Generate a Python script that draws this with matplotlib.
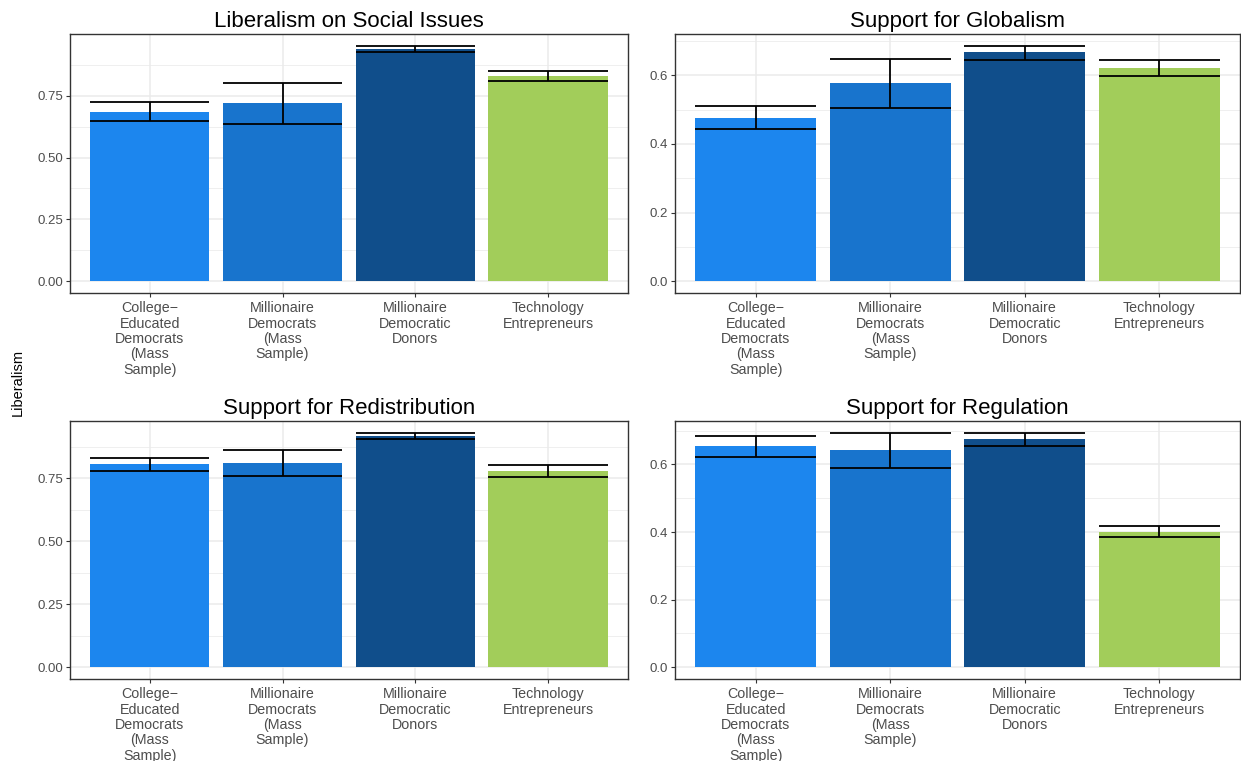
import matplotlib.pyplot as plt
from matplotlib.ticker import MultipleLocator
import numpy as np

plt.rcParams["font.family"] = ["Liberation Sans", "DejaVu Sans"]

# -----------------------
# DATA
# -----------------------

groups = [
    "College\u2212\nEducated\nDemocrats\n(Mass\nSample)",
    "Millionaire\nDemocrats\n(Mass\nSample)",
    "Millionaire\nDemocratic\nDonors",
    "Technology\nEntrepreneurs",
]
bar_colors = ["#1C86EE", "#1874CD", "#104E8B", "#A2CD5A"]

social_mean = [0.685, 0.722, 0.940, 0.831]
social_lo = [0.648, 0.637, 0.925, 0.811]
social_hi = [0.723, 0.802, 0.952, 0.852]

globalism_mean = [0.477, 0.577, 0.667, 0.620]
globalism_lo = [0.443, 0.506, 0.645, 0.597]
globalism_hi = [0.512, 0.647, 0.686, 0.644]

redistribution_mean = [0.804, 0.808, 0.918, 0.780]
redistribution_lo = [0.780, 0.757, 0.907, 0.755]
redistribution_hi = [0.828, 0.861, 0.930, 0.800]

regulation_mean = [0.654, 0.642, 0.675, 0.400]
regulation_lo = [0.623, 0.589, 0.656, 0.384]
regulation_hi = [0.683, 0.694, 0.692, 0.419]

panels = [
    ("Liberalism on Social Issues", social_mean, social_lo, social_hi, 0.25),
    ("Support for Globalism", globalism_mean, globalism_lo, globalism_hi, 0.2),
    ("Support for Redistribution", redistribution_mean, redistribution_lo, redistribution_hi, 0.25),
    ("Support for Regulation", regulation_mean, regulation_lo, regulation_hi, 0.2),
]

# axes boxes in figure fractions: left, bottom, width, height
boxes = [
    (0.0564, 0.615, 0.4496, 0.3403),
    (0.5440, 0.615, 0.4552, 0.3403),
    (0.0564, 0.1078, 0.4496, 0.3390),
    (0.5440, 0.1078, 0.4552, 0.3390),
]

XLAB_SIZE = 10.3


def draw_panel(ax, title, mean, lo, hi, step):
    x = np.arange(1, len(groups) + 1)
    ax.bar(x, mean, width=0.9, color=bar_colors, zorder=2)
    # error bars: caps as wide as the bars
    ax.vlines(x, lo, hi, color="black", lw=1.3, zorder=3)
    ax.hlines(lo, x - 0.45, x + 0.45, color="black", lw=1.3, zorder=3)
    ax.hlines(hi, x - 0.45, x + 0.45, color="black", lw=1.3, zorder=3)

    top = max(hi)
    ax.set_ylim(-0.05 * top, 1.05 * top)
    ax.set_xlim(0.4, len(groups) + 0.6)
    ax.yaxis.set_major_locator(MultipleLocator(step))
    ax.yaxis.set_minor_locator(MultipleLocator(step / 2))
    if step == 0.25:
        ax.yaxis.set_major_formatter(plt.FormatStrFormatter("%.2f"))
    else:
        ax.yaxis.set_major_formatter(plt.FormatStrFormatter("%.1f"))

    ax.grid(which="major", color="#EBEBEB", lw=1.1, zorder=0)
    ax.grid(which="minor", axis="y", color="#EBEBEB", lw=0.55, zorder=0)
    ax.set_axisbelow(True)
    ax.tick_params(which="major", length=3, color="#333333", labelsize=9.5,
                   labelcolor="#4D4D4D")
    ax.tick_params(axis="y", pad=2)
    ax.tick_params(axis="x", pad=3)
    ax.tick_params(which="minor", length=0)

    ax.set_xticks(x)
    ax.set_xticklabels(groups, fontsize=XLAB_SIZE, color="#4D4D4D", linespacing=1.12)

    for sp in ax.spines.values():
        sp.set_color("#333333")
        sp.set_linewidth(1.0)
    ax.set_title(title, fontsize=16, pad=5)


fig = plt.figure(figsize=(12.41, 7.61), dpi=100)
for (title, mean, lo, hi, step), box in zip(panels, boxes):
    ax = fig.add_axes(box)
    draw_panel(ax, title, mean, lo, hi, step)

fig.text(0.0145, 0.497, "Liberalism", rotation=90, ha="center", va="center", fontsize=10.5)

fig.savefig("out.png", dpi=100)
plt.close(fig)
